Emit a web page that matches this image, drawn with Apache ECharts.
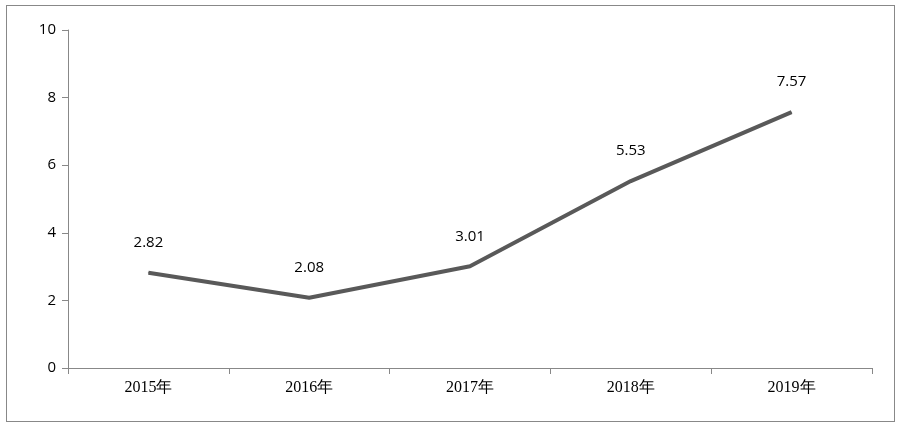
<!DOCTYPE html>
<html><head><meta charset="utf-8">
<script src="https://cdn.jsdelivr.net/npm/echarts@6/dist/echarts.min.js"></script>
<style>body{margin:0;background:#fff}#c{width:901px;height:432px}
#frame{position:absolute;left:6px;top:5px;width:889px;height:417px;border:1px solid #888;box-sizing:border-box;pointer-events:none}</style>
</head><body><div id="c"></div><div id="frame"></div>
<script>
var categories = ['2015年', '2016年', '2017年', '2018年', '2019年'];
var values = [2.82, 2.08, 3.01, 5.53, 7.57];

var chart = echarts.init(document.getElementById('c'));
chart.setOption({
	animation: false,
	grid: { left: 68, right: 29, top: 30, bottom: 64 },
	xAxis: {
		type: 'category',
		data: categories,
		boundaryGap: true,
		axisLine: { lineStyle: { color: '#888' } },
		axisTick: { show: true, length: 6, lineStyle: { color: '#888' } },
		axisLabel: { color: '#000', fontSize: 16, fontFamily: 'Liberation Serif', margin: 12 }
	},
	yAxis: {
		type: 'value',
		min: 0, max: 10, interval: 2,
		splitLine: { show: false },
		axisLine: { show: true, lineStyle: { color: '#888' } },
		axisTick: { show: true, length: 6, lineStyle: { color: '#888' } },
		axisLabel: { color: '#000', fontSize: 15, fontFamily: 'Open Sans', margin: 12 }
	},
	series: [{
		type: 'line',
		data: values,
		symbol: 'circle',
		symbolSize: 1,
		showSymbol: true,
		itemStyle: { color: '#595959' },
		lineStyle: { color: '#595959', width: 4 },
		label: {
			show: true, position: 'top', distance: 22,
			color: '#000', fontSize: 15, fontFamily: 'Open Sans',
			formatter: function (p) { return p.value.toFixed(2); }
		}
	}]
});
</script></body></html>
